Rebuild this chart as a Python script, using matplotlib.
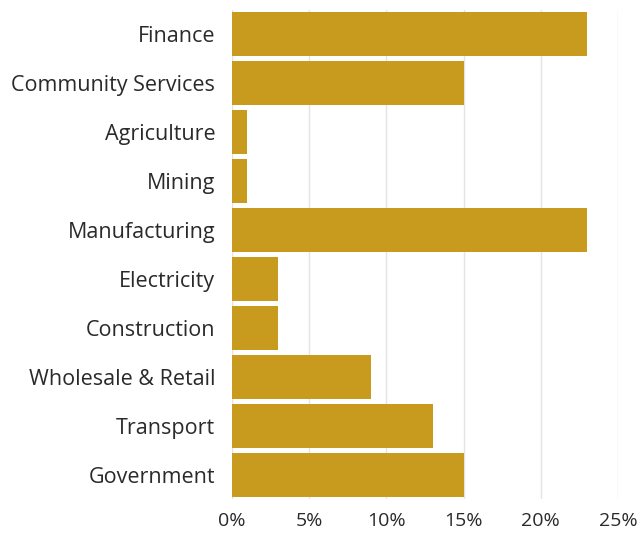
import matplotlib
matplotlib.use("Agg")
import matplotlib.pyplot as plt
from matplotlib.ticker import FuncFormatter

categories = ["Finance", "Community Services", "Agriculture", "Mining", "Manufacturing",
              "Electricity", "Construction", "Wholesale & Retail", "Transport", "Government"]
values = [23, 15, 1, 1, 23, 3, 3, 9, 13, 15]
xticks = [0, 5, 10, 15, 20, 25]

plt.rcParams['font.family'] = ['Open Sans', 'DejaVu Sans']

fig = plt.figure(figsize=(6.42, 5.33), dpi=100)
ax = fig.add_axes([232/642, 0.063, (618-232)/642, 0.919])

y = list(range(len(categories)))
ax.barh(y, values, height=0.9, color="#C89B1E", zorder=3)
ax.set_yticks(y)
ax.set_yticklabels(categories)
ax.set_ylim(9.5, -0.5)
ax.set_xlim(0, 25)
ax.set_xticks(xticks)
ax.xaxis.set_major_formatter(FuncFormatter(lambda v, p: f"{int(v)}%"))
ax.grid(axis="x", color="#e4e4e4", linewidth=1, zorder=0)
for s in ax.spines.values():
    s.set_visible(False)
ax.tick_params(axis="both", length=0, colors="#2a2a2a")
ax.tick_params(axis="y", pad=12, labelsize=15.5)
ax.tick_params(axis="x", pad=9, labelsize=14)

fig.savefig("out.png", dpi=100, facecolor="white")
